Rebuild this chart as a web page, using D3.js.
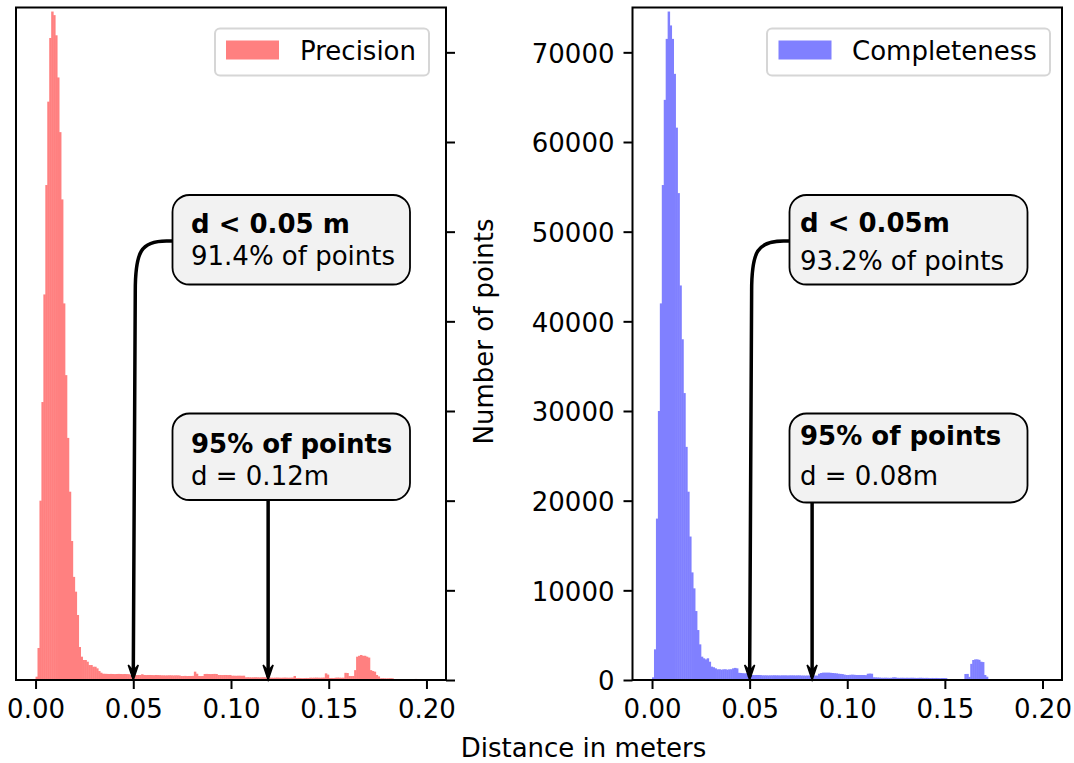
<!DOCTYPE html>
<html>
<head>
<meta charset="utf-8">
<script src="https://cdn.jsdelivr.net/npm/d3@7"></script>
<style>
  html, body { margin: 0; padding: 0; background: #fff; }
  svg { display: block; }
  text { font-family: "DejaVu Sans", sans-serif; fill: #000; }
</style>
</head>
<body>
<svg id="chart" width="1074" height="763"></svg>
<script>
// ---------------- data ----------------
const binWidth = 0.001;   // histogram bin width in meters (bins start at 0)
const xTicks = [0, 0.05, 0.10, 0.15, 0.20];
const yTicks = [0, 10000, 20000, 30000, 40000, 50000, 60000, 70000];
const seriesNames = ["Precision", "Completeness"];

const precisionCounts = [
 370, 3570, 20000, 31000, 43000, 55200, 64500, 71600, 74550, 74150,
 71900, 67200, 61100, 53600, 42000, 34000, 27000, 21000, 15500, 11500,
 9850, 7250, 3680, 2600, 2230, 2230, 2040, 1670, 1670, 1480,
 1480, 1300, 1000, 815, 700, 690, 680, 670, 680, 670,
 660, 670, 680, 670, 660, 670, 660, 650, 560, 570,
 560, 550, 560, 560, 640, 560, 550, 560, 560, 550,
 540, 560, 550, 540, 520, 520, 510, 520, 530, 520,
 510, 520, 520, 510, 450, 450, 460, 440, 450, 450,
 460, 930, 700, 450, 440, 450, 670, 680, 670, 660,
 670, 680, 670, 560, 560, 550, 560, 560, 550, 560,
 480, 480, 470, 480, 480, 470, 480, 300, 310, 300,
 290, 300, 310, 300, 290, 300, 310, 300, 260, 270,
 260, 250, 260, 270, 260, 250, 260, 270, 260, 250,
 260, 270, 450, 220, 230, 220, 210, 220, 230, 220,
 260, 250, 260, 270, 260, 250, 260, 270, 740, 600,
 220, 230, 220, 260, 270, 260, 250, 260, 800, 780,
 450, 440, 450, 1100, 2600, 2700, 2790, 2700, 2700, 2600,
 2500, 1100, 1000, 930, 560, 400, 190, 200, 190, 180,
 190, 200, 190, 75, 80, 75, 70, 75, 80, 75,
 70, 75, 110, 110, 120, 110, 100, 110, 110, 100
];

const completenessCounts = [
 300, 3420, 18000, 30000, 42000, 55200, 64700, 71500, 74550, 73000,
 71500, 67600, 61600, 54300, 44000, 38000, 32000, 26000, 21000, 16000,
 12000, 10220, 7690, 5570, 3975, 2600, 2420, 2300, 2420, 2040,
 1490, 1420, 1300, 1190, 1200, 1150, 1190, 1200, 1150, 1190,
 1200, 1300, 1350, 1300, 800, 780, 760, 740, 760, 740,
 560, 560, 550, 560, 560, 550, 520, 520, 520, 510,
 520, 520, 530, 520, 520, 510, 520, 520, 520, 510,
 520, 520, 520, 510, 520, 520, 500, 500, 490, 500,
 500, 490, 500, 500, 490, 700, 780, 820, 820, 820,
 820, 800, 780, 760, 740, 700, 680, 660, 600, 560,
 560, 580, 600, 580, 560, 560, 560, 560, 560, 540,
 700, 720, 700, 300, 290, 280, 270, 250, 250, 260,
 250, 240, 250, 300, 300, 250, 240, 250, 250, 240,
 250, 240, 250, 250, 240, 230, 240, 250, 240, 230,
 240, 230, 220, 230, 220, 230, 220, 210, 220, 220,
 210, 110, 110, 100, 110, 110, 100, 110, 110, 100,
 670, 680, 350, 1800, 2230, 2300, 2300, 2250, 2040, 2000,
 560, 370, 0, 0, 0, 0, 0, 0, 0, 0,
 0, 0, 0, 0, 0, 0, 0, 0, 0, 0,
 0, 0, 0, 0, 0, 0, 0, 0, 0, 0
];

// annotation texts
const precisionNotes = [
  { bold: "d < 0.05 m", normal: "91.4% of points", target: 0.05 },
  { bold: "95% of points", normal: "d = 0.12m", target: 0.119 }
];
const completenessNotes = [
  { bold: "d < 0.05m", normal: "93.2% of points", target: 0.05 },
  { bold: "95% of points", normal: "d = 0.08m", target: 0.082 }
];

// ---------------- layout ----------------
const svg = d3.select("#chart");
const FS = 26;
const yTop = 7.5, yBottom = 680;
const panels = [
  { x0: 16, x1: 446, counts: precisionCounts, color: "#ff8080", name: seriesNames[0],
    notes: precisionNotes, yLabels: false,
    legend: { bx: 215, bw: 214, patchX: 226, textX: 300 },
    boxes: [ { x: 172.5, y: 195, w: 237.5, h: 89.5, l1: 232.5, l2: 265, tx: 191 },
             { x: 172.5, y: 413.5, w: 237.5, h: 86.5, l1: 452.5, l2: 485, tx: 191 } ] },
  { x0: 632.5, x1: 1062, counts: completenessCounts, color: "#8080ff", name: seriesNames[1],
    notes: completenessNotes, yLabels: true,
    legend: { bx: 767, bw: 283, patchX: 778.5, textX: 852 },
    boxes: [ { x: 789.5, y: 195, w: 238, h: 89.5, l1: 232, l2: 270, tx: 800 },
             { x: 789.5, y: 413.5, w: 238, h: 89, l1: 445, l2: 485, tx: 800 } ] }
];

const y = d3.scaleLinear().domain([0, 75000]).range([yBottom, yTop]);

panels.forEach(p => {
  const x = d3.scaleLinear().domain([-0.01, 0.21]).range([p.x0, p.x1]);
  const g = svg.append("g");

  // bars
  g.append("g").selectAll("rect").data(p.counts).join("rect")
    .attr("x", (d, i) => x(i * binWidth))
    .attr("width", (d, i) => x((i + 1) * binWidth) - x(i * binWidth) + 0.5)
    .attr("y", d => y(d))
    .attr("height", d => y(0) - y(d))
    .attr("fill", p.color);

  // x axis
  const xa = g.append("g").attr("transform", `translate(0,${yBottom})`)
    .call(d3.axisBottom(x).tickValues(xTicks).tickFormat(d3.format(".2f"))
      .tickSize(9).tickPadding(11).tickSizeOuter(0));
  xa.select(".domain").remove();
  xa.selectAll(".tick line").attr("stroke", "#000").attr("stroke-width", 2);
  xa.selectAll(".tick text").attr("font-size", FS).attr("font-family", "DejaVu Sans");

  // y axis
  if (p.yLabels) {
    const ya = g.append("g").attr("transform", `translate(${p.x0},0)`)
      .call(d3.axisLeft(y).tickValues(yTicks).tickFormat(d3.format("d"))
        .tickSize(9).tickPadding(9).tickSizeOuter(0));
    ya.select(".domain").remove();
    ya.selectAll(".tick line").attr("stroke", "#000").attr("stroke-width", 2);
    ya.selectAll(".tick text").attr("font-size", FS).attr("font-family", "DejaVu Sans").attr("dy", "0.38em");
  } else {
    const ya = g.append("g").attr("transform", `translate(${p.x1},0)`)
      .call(d3.axisRight(y).tickValues(yTicks).tickFormat("")
        .tickSize(9).tickSizeOuter(0));
    ya.select(".domain").remove();
    ya.selectAll(".tick line").attr("stroke", "#000").attr("stroke-width", 2);
  }

  // frame
  g.append("rect").attr("x", p.x0).attr("y", yTop)
    .attr("width", p.x1 - p.x0).attr("height", yBottom - yTop)
    .attr("fill", "none").attr("stroke", "#000").attr("stroke-width", 2);

  // legend
  const L = p.legend;
  g.append("rect").attr("x", L.bx).attr("y", 28.5).attr("width", L.bw).attr("height", 47)
    .attr("rx", 5).attr("fill", "#fff").attr("stroke", "#d6d6d6").attr("stroke-width", 2);
  g.append("rect").attr("x", L.patchX).attr("y", 40.5).attr("width", 53).attr("height", 19)
    .attr("fill", p.color);
  g.append("text").attr("x", L.textX).attr("y", 59.5).attr("font-size", FS).text(p.name);

  // annotations
  p.notes.forEach((n, i) => {
    const b = p.boxes[i];
    const tx = x(n.target);
    let path;
    if (i === 0) {
      const yc = b.y + 46;
      path = `M${b.x},${yc} L${b.x - 6},${yc} C${tx + 8},${yc} ${tx + 2},${yc + 10} ${tx + 2},${yc + 50} L${tx},${yBottom - 3}`;
    } else {
      path = `M${tx},${b.y + b.h} L${tx},${yBottom - 3}`;
    }
    g.append("path").attr("d", path).attr("fill", "none")
      .attr("stroke", "#000").attr("stroke-width", 3.5);
    g.append("path")
      .attr("d", `M${tx - 5},${yBottom - 15} L${tx},${yBottom} L${tx + 5},${yBottom - 15} L${tx},${yBottom - 9} Z`)
      .attr("fill", "#000").attr("stroke", "#000").attr("stroke-width", 1.5).attr("stroke-linejoin", "miter");

    g.append("rect").attr("x", b.x).attr("y", b.y).attr("width", b.w).attr("height", b.h)
      .attr("rx", 17).attr("fill", "#f2f2f2").attr("stroke", "#000").attr("stroke-width", 1.8);
    g.append("text").attr("x", b.tx).attr("y", b.l1).attr("font-size", FS)
      .attr("font-weight", "bold").text(n.bold);
    g.append("text").attr("x", b.tx).attr("y", b.l2).attr("font-size", FS).text(n.normal);
  });
});

// shared axis titles
svg.append("text").attr("x", 583.5).attr("y", 757).attr("text-anchor", "middle")
  .attr("font-size", FS).text("Distance in meters");
svg.append("text").attr("transform", "translate(492.5,331.5) rotate(-90)")
  .attr("text-anchor", "middle").attr("font-size", FS).text("Number of points");
</script>
</body>
</html>
